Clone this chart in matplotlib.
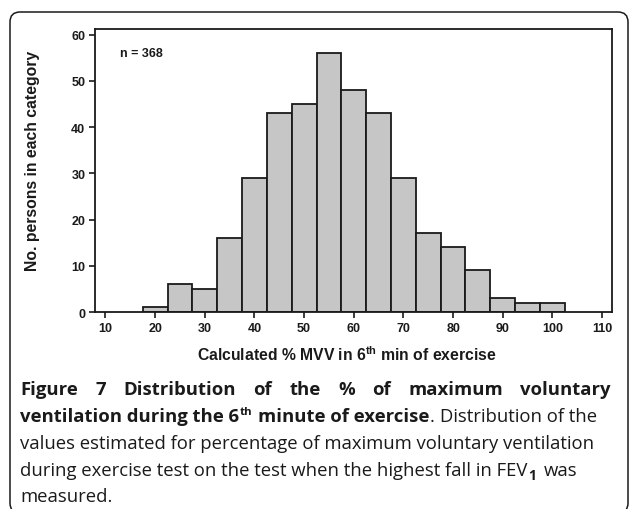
"""Histogram of % MVV in the 6th minute of exercise, with figure caption."""

import matplotlib

matplotlib.use("Agg")
import matplotlib.pyplot as plt
from matplotlib.patches import FancyBboxPatch

# bins of width 5 (% MVV), counts
bin_left = [17.5, 22.5, 27.5, 32.5, 37.5, 42.5, 47.5, 52.5, 57.5,
            62.5, 67.5, 72.5, 77.5, 82.5, 87.5, 92.5, 97.5]
counts = [1, 6, 5, 16, 29, 43, 45, 56, 48, 43, 29, 17, 14, 9, 3, 2, 2]
x_ticks = [10, 20, 30, 40, 50, 60, 70, 80, 90, 100, 110]
y_ticks = [0, 10, 20, 30, 40, 50, 60]
n_label = "n = 368"

caption_line1 = ["Figure", "7", "Distribution", "of", "the", "%", "of",
                 "maximum", "voluntary"]
caption_lines = [
    "values estimated for percentage of maximum voluntary ventilation",
    "during exercise test on the test when the highest fall in FEV",
    "measured.",
]

W, H = 629, 510
plt.rcParams["font.family"] = ["Liberation Sans", "DejaVu Sans"]
plt.rcParams["mathtext.fontset"] = "custom"
plt.rcParams["mathtext.rm"] = "Liberation Sans:bold"
plt.rcParams["mathtext.bf"] = "Liberation Sans:bold"

fig = plt.figure(figsize=(W / 100, H / 100), dpi=100)
ax = fig.add_axes([95 / W, 1 - 313 / H, (612 - 95) / W, (313 - 30) / H])

ax.bar(bin_left, counts, width=5, align="edge", color="#c6c6c6",
       edgecolor="#1a1a1a", linewidth=1.3, zorder=2)
ax.set_xlim(7.9, 112)
ax.set_ylim(0, 61.2)
ax.set_xticks(x_ticks)
ax.set_yticks(y_ticks)
ax.tick_params(direction="out", length=4, width=1.2, color="#1a1a1a",
               labelsize=9, pad=3)
for lab in ax.get_xticklabels() + ax.get_yticklabels():
    lab.set_fontweight("bold")
    lab.set_color("#1a1a1a")
for sp in ax.spines.values():
    sp.set_linewidth(1.3)
    sp.set_color("#1a1a1a")

ax.text(13, 56, n_label, fontsize=9, fontweight="bold", va="center",
        color="#1a1a1a")

fig.text(33 / W, 1 - 161 / H, "No. persons in each category", rotation=90,
         fontsize=11.3, fontweight="bold", ha="center", va="center",
         color="#1a1a1a")
fig.text(347 / W, 1 - 355 / H,
         r"Calculated % MVV in 6$^{\mathrm{th}}$ min of exercise",
         fontsize=11.3, fontweight="bold", ha="center", va="center",
         color="#1a1a1a")

# rounded frame, bottom edge falls just below the picture
frame = FancyBboxPatch((10 / 100, -4 / 100), 618 / 100, (H + 4 - 13) / 100,
                       boxstyle="round,pad=0,rounding_size=0.1",
                       transform=fig.dpi_scale_trans, fill=False,
                       edgecolor="#1a1a1a", linewidth=1.1, clip_on=False)
fig.add_artist(frame)

# caption, laid out word by word
renderer = fig.canvas.get_renderer()
cap_font = "Open Sans"
cap_size = 13.3
ink = "#1a1a1a"
x0, x1 = 20, 611


def text_px(x, y, s, **kw):
    t = fig.text(x / W, 1 - y / H, s, family=cap_font, va="baseline",
                 color=ink, **kw)
    return t, t.get_window_extent(renderer).width


def width_of(s, **kw):
    t, w = text_px(0, 0, s, **kw)
    t.remove()
    return w


space_b = width_of("a a", fontsize=cap_size, fontweight="bold") - \
    width_of("aa", fontsize=cap_size, fontweight="bold")
space_r = width_of("a a", fontsize=cap_size) - width_of("aa", fontsize=cap_size)

# line 1: bold, justified
widths = [width_of(w, fontsize=cap_size, fontweight="bold") for w in caption_line1]
gap = (x1 - x0 - sum(widths)) / (len(widths) - 1)
x = x0
for word, w in zip(caption_line1, widths):
    text_px(x, 395, word, fontsize=cap_size, fontweight="bold")
    x += w + gap

# line 2: mixed runs
runs = [
    ("ventilation during the 6", "bold", cap_size, 0),
    ("th", "bold", cap_size * 0.62, -7),
    (" ", "bold", cap_size, 0),
    ("minute of exercise", "bold", cap_size, 0),
    (".", "normal", cap_size, 0),
    (" ", "normal", cap_size, 0),
    ("Distribution of the", "normal", cap_size, 0),
]
x = x0
for s, wt, sz, dy in runs:
    if s == " ":
        x += space_b if wt == "bold" else space_r
        continue
    _, w = text_px(x, 422 + dy, s, fontsize=sz, fontweight=wt)
    x += w + 0.6

# lines 3-5
_, _ = text_px(x0, 449, caption_lines[0], fontsize=cap_size)
_, w = text_px(x0, 476, caption_lines[1], fontsize=cap_size)
_, ws = text_px(x0 + w + 1, 480, "1", fontsize=cap_size * 0.75,
                fontweight="bold")
text_px(x0 + w + ws + space_r + 4, 476, "was", fontsize=cap_size)
text_px(x0, 502, caption_lines[2], fontsize=cap_size)

fig.savefig("out.png", dpi=100)
